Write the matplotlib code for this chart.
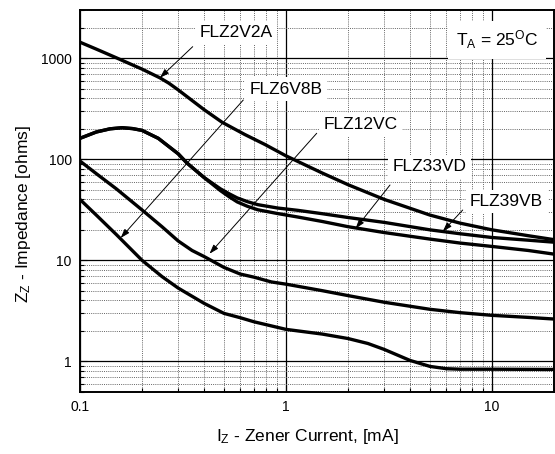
import matplotlib
matplotlib.use("Agg")
import matplotlib.pyplot as plt
from matplotlib.ticker import FixedLocator, NullFormatter

plt.rcParams['font.family'] = ['Liberation Sans', 'DejaVu Sans']
plt.rcParams['mathtext.fontset'] = 'custom'
plt.rcParams['mathtext.rm'] = 'Liberation Sans'
plt.rcParams['mathtext.it'] = 'Liberation Sans'

# zener current [mA] / impedance [ohms]
x_2v2a = [0.1, 0.12, 0.15, 0.2, 0.244, 0.27, 0.3, 0.4, 0.49, 0.63, 0.79, 1.0, 1.5, 2, 3, 5, 7, 10, 15, 20]
z_2v2a = [1440, 1230, 1010, 780, 640, 566, 485, 310, 232, 176, 140, 108, 73, 56, 40, 28, 23.3, 20, 17.5, 16]

x_hump = [0.1, 0.12, 0.14, 0.16, 0.18, 0.2, 0.24, 0.3, 0.33, 0.4, 0.48, 0.53, 0.58, 0.65, 0.73, 0.91, 1.14,
          1.5, 2, 3, 5, 7, 10, 15, 20]
z_39vb = [161, 186, 200, 205, 201, 193, 161, 113, 92, 66, 51, 45.5, 41.4, 38, 35.5, 32.9, 31.2,
          28.9, 26.5, 23.7, 20, 18.3, 16.8, 15.8, 15.1]
z_33vd = [161, 186, 200, 205, 201, 193, 161, 113, 92, 66, 49, 42.5, 37.8, 34.2, 31.6, 29, 26.8,
          24.2, 21.5, 18.8, 16.2, 14.8, 13.7, 12.5, 11.5]

x_12vc = [0.1, 0.12, 0.15, 0.2, 0.25, 0.3, 0.35, 0.4, 0.5, 0.6, 0.7, 0.85, 1, 1.5, 2, 3, 5, 7, 10, 15, 20]
z_12vc = [96, 72, 51, 31.5, 21.5, 15.5, 12.5, 10.9, 8.5, 7.3, 6.8, 6.1, 5.8, 5.0, 4.47, 3.84, 3.27, 3.03,
          2.85, 2.72, 2.62]

x_6v8b = [0.1, 0.12, 0.15, 0.2, 0.25, 0.3, 0.4, 0.5, 0.6, 0.7, 1, 1.5, 2, 2.5, 3, 4, 5, 6, 7, 10, 20]
z_6v8b = [40, 28, 18, 10, 6.9, 5.3, 3.75, 2.98, 2.7, 2.46, 2.07, 1.86, 1.68, 1.5, 1.31, 1.02, 0.89, 0.845,
          0.835, 0.835, 0.83]

x_major = [0.1, 1, 10]
x_labels = ['0.1', '1', '10']
y_major = [1, 10, 100, 1000]
y_labels = ['1', '10', '100', '1000']

fig = plt.figure(figsize=(5.55, 4.54), dpi=100)
ax = fig.add_axes([0.1441, 0.1372, 0.8541, 0.8408])

ax.set_xscale('log')
ax.set_yscale('log')
ax.set_xlim(0.1, 20)
ax.set_ylim(0.5, 3000)

minor_x = [m * d for d in (0.1, 1, 10) for m in range(2, 10)]
minor_y = [m * d for d in (0.1, 1, 10, 100, 1000) for m in range(2, 10)]
ax.xaxis.set_major_locator(FixedLocator(x_major))
ax.xaxis.set_minor_locator(FixedLocator(minor_x))
ax.yaxis.set_major_locator(FixedLocator(y_major))
ax.yaxis.set_minor_locator(FixedLocator(minor_y))
ax.set_xticklabels(x_labels)
ax.set_yticklabels(y_labels)
ax.xaxis.set_minor_formatter(NullFormatter())
ax.yaxis.set_minor_formatter(NullFormatter())

ax.grid(which='major', color='black', linestyle='-', linewidth=0.9, zorder=1)
ax.grid(which='minor', color='#666666', linestyle=(0, (1, 1.2)), linewidth=0.7, zorder=1)
ax.set_axisbelow(True)

ax.tick_params(which='both', direction='in', labelsize=10, pad=6, width=0.8)
ax.tick_params(which='major', length=5)
ax.tick_params(which='minor', length=3)
for s in ax.spines.values():
    s.set_linewidth(1.4)

for xs, zs in ((x_2v2a, z_2v2a), (x_hump, z_39vb), (x_hump, z_33vd), (x_12vc, z_12vc), (x_6v8b, z_6v8b)):
    ax.plot(xs, zs, color='black', linewidth=2.4, solid_joinstyle='round', zorder=3)

box = dict(boxstyle='square,pad=0.25', fc='white', ec='none')
arrow = dict(arrowstyle='-|>,head_length=0.55,head_width=0.18', color='black',
             lw=0.7, shrinkA=0, shrinkB=0)

labels = [
    ('FLZ2V2A', (0.329, 0.940), (0.2378, 0.9039), (0.2443, 640)),
    ('FLZ6V8B', (0.434, 0.793), (0.3445, 0.7642), (0.1575, 16.6)),
    ('FLZ12VC', (0.592, 0.699), (0.4994, 0.677), (0.4253, 11.6)),
    ('FLZ33VD', (0.738, 0.589), (0.654, 0.5415), (2.177, 20.6)),
    ('FLZ39VB', (0.900, 0.498), (0.8074, 0.4760), (5.77, 19.3)),
]
for name, tpos, start, tip in labels:
    ax.annotate('', xy=tip, xycoords='data', xytext=start, textcoords='axes fraction',
                arrowprops=arrow, zorder=4)
    ax.text(tpos[0], tpos[1], name, transform=ax.transAxes, fontsize=12.5,
            ha='center', va='center', bbox=box, zorder=5)

ax.text(0.880, 0.921, r'T$_\mathregular{A}$ = 25$^\mathregular{O}$C', transform=ax.transAxes,
        fontsize=12.5, ha='center', va='center',
        bbox=dict(boxstyle='square,pad=0.45', fc='white', ec='none'), zorder=5)

ax.set_xlabel(r'I$_\mathregular{Z}$ - Zener Current, [mA]', fontsize=12.5)
ax.set_ylabel(r'Z$_\mathregular{Z}$ - Impedance [ohms]', fontsize=12.5)
ax.xaxis.set_label_coords(0.4795, -0.093)
ax.yaxis.set_label_coords(-0.10, 0.4655)

fig.savefig('out.png', dpi=100)
